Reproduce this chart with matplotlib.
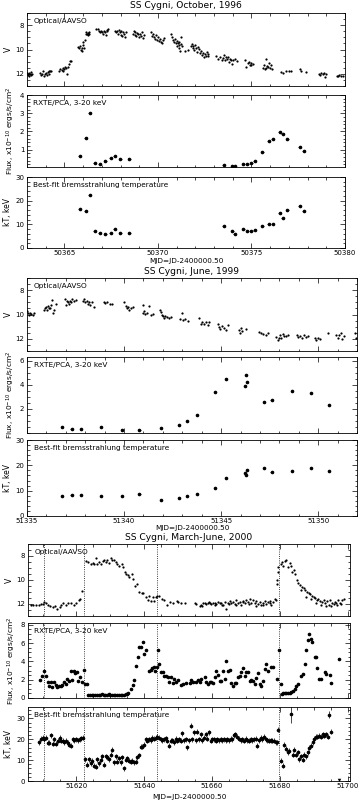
import numpy as np
import matplotlib
matplotlib.use("Agg")
import matplotlib.pyplot as plt
from matplotlib.ticker import MultipleLocator

plt.rcParams['font.family'] = 'DejaVu Sans'

# ---------------- October 1996 ----------------
opt96_t = [50363.02, 50363.05, 50363.08, 50363.10, 50363.12, 50363.15, 50363.20, 50363.22, 50363.25,
           50363.70, 50363.75, 50363.80, 50363.85, 50363.90, 50363.95, 50364.00, 50364.05, 50364.10, 50364.15, 50364.20, 50364.25, 50364.30,
           50364.72, 50364.78, 50364.85, 50364.90, 50364.95, 50365.00, 50365.05, 50365.10, 50365.12, 50365.18, 50365.22, 50365.28, 50365.35,
           50365.75, 50365.80, 50365.85, 50365.90, 50365.92, 50365.95, 50366.00, 50366.02, 50366.05, 50366.08,
           50366.15, 50366.18, 50366.22, 50366.25, 50366.28, 50366.30, 50366.33,
           50366.70, 50366.78, 50366.85, 50366.90, 50366.95, 50367.00, 50367.05, 50367.10, 50367.15, 50367.20, 50367.25, 50367.30, 50367.35,
           50367.70, 50367.75, 50367.82, 50367.88, 50367.92, 50367.98, 50368.02, 50368.05, 50368.10, 50368.15, 50368.20, 50368.25, 50368.30,
           50368.65, 50368.70, 50368.75, 50368.80, 50368.85, 50368.90, 50368.95, 50369.00, 50369.05, 50369.10, 50369.15, 50369.20, 50369.25,
           50369.65, 50369.70, 50369.75, 50369.80, 50369.85, 50369.90, 50369.95, 50370.00, 50370.05, 50370.10, 50370.15, 50370.20, 50370.25, 50370.30,
           50370.70, 50370.75, 50370.80, 50370.85, 50370.90, 50370.95, 50371.00, 50371.02, 50371.05, 50371.10, 50371.12, 50371.15, 50371.18, 50371.22, 50371.25, 50371.30,
           50371.45, 50371.60, 50371.75, 50371.80, 50371.85, 50371.90, 50371.95, 50372.00, 50372.05, 50372.10, 50372.15, 50372.20,
           50372.25, 50372.30, 50372.35, 50372.40, 50372.45, 50372.50, 50372.55, 50372.60, 50372.65, 50372.70,
           50373.10, 50373.20, 50373.30, 50373.40, 50373.50, 50373.55, 50373.60, 50373.65, 50373.70, 50373.75, 50373.80, 50373.85, 50373.90, 50373.95, 50374.00, 50374.10, 50374.20,
           50374.65, 50374.70, 50374.80, 50374.85, 50374.90, 50374.95, 50375.00, 50375.10,
           50375.60, 50375.65, 50375.70, 50375.75, 50375.80, 50375.85, 50375.90, 50375.95, 50376.00, 50376.05, 50376.10,
           50376.60, 50376.70, 50376.85, 50377.00, 50377.10,
           50377.60, 50377.65, 50377.90,
           50378.60, 50378.65, 50378.70, 50378.80, 50378.90, 50378.95, 50379.00,
           50379.55, 50379.65, 50379.70, 50379.80, 50379.90]
opt96_v = [11.90, 12.10, 12.00, 12.20, 11.95, 12.05, 12.10, 11.85, 12.00,
           11.90, 12.10, 12.00, 11.75, 12.15, 12.00, 11.90, 12.10, 11.85, 12.00, 11.80, 11.75, 11.80,
           11.80, 11.60, 11.70, 11.50, 11.75, 11.60, 11.40, 11.55, 12.00, 11.40, 11.20, 10.95, 10.95,
           9.80, 9.90, 9.70, 10.00, 9.85, 10.15, 9.60, 9.35, 9.90, 9.25,
           8.75, 8.60, 8.70, 8.65, 8.80, 8.60, 8.70,
           8.30, 8.35, 8.50, 8.55, 8.45, 8.60, 8.70, 8.50, 8.55, 8.80, 8.40, 8.50, 8.30,
           8.45, 8.60, 8.50, 8.70, 8.40, 8.55, 8.80, 8.50, 8.90, 8.60, 8.70, 8.95, 8.60,
           8.70, 8.50, 8.80, 8.60, 8.90, 8.65, 8.75, 9.00, 8.70, 8.85, 8.60, 9.05, 8.80,
           8.60, 8.90, 8.75, 9.00, 9.10, 8.80, 9.20, 8.95, 9.30, 9.10, 9.35, 9.50, 9.20, 9.05,
           8.70, 9.00, 9.20, 9.40, 9.10, 9.50, 9.30, 9.70, 9.45, 9.60, 9.90, 9.35, 10.10, 9.55, 9.00, 9.75,
           10.15, 10.00, 9.70, 9.55, 9.85, 9.75, 10.00, 9.60, 9.90, 10.20, 9.80, 9.95,
           10.25, 10.10, 10.45, 10.30, 10.60, 10.35, 10.50, 10.20, 10.55, 10.40,
           10.55, 10.75, 10.60, 10.85, 10.70, 10.45, 10.90, 10.60, 10.80, 10.65, 11.00, 10.75, 10.85, 11.20, 10.90, 10.80, 10.95,
           10.85, 11.40, 11.10, 11.00, 11.25, 11.15, 11.30, 11.20,
           11.50, 11.30, 11.60, 10.80, 11.55, 11.35, 11.45, 11.10, 11.50, 11.30, 11.60,
           11.85, 11.90, 11.80, 11.75, 11.80,
           11.60, 11.80, 11.85,
           12.00, 12.10, 11.95, 12.00, 11.90, 12.30, 12.05,
           12.15, 12.20, 12.10, 12.20, 12.15]

xr96_t = [50365.82, 50366.14, 50366.35, 50366.62, 50366.88, 50367.17, 50367.47, 50367.70, 50367.98, 50368.46,
          50373.53, 50373.97, 50374.10, 50374.56, 50374.77, 50375.00, 50375.18, 50375.57, 50375.93, 50376.14,
          50376.50, 50376.67, 50376.92, 50377.57, 50377.79]
flux96 = [0.65, 1.64, 3.00, 0.25, 0.22, 0.36, 0.55, 0.65, 0.47, 0.49,
          0.18, 0.09, 0.09, 0.22, 0.22, 0.29, 0.38, 0.87, 1.45, 1.58,
          1.96, 1.85, 1.58, 1.13, 0.93]
kt96 = [16.6, 15.8, 22.6, 7.0, 6.5, 5.9, 6.3, 7.9, 6.3, 6.5,
        9.3, 7.1, 5.9, 8.0, 7.0, 7.0, 7.4, 9.5, 10.2, 10.2,
        14.7, 12.8, 16.2, 17.7, 15.7]

# ---------------- June 1999 ----------------
opt99_t = [51335.00, 51335.05, 51335.10, 51335.15, 51335.20, 51335.30, 51335.35,
           51335.90, 51335.95, 51336.00, 51336.05, 51336.10, 51336.15, 51336.20, 51336.25, 51336.30, 51336.35, 51336.40, 51336.50,
           51336.95, 51337.00, 51337.05, 51337.10, 51337.15, 51337.20, 51337.25, 51337.30, 51337.40, 51337.50,
           51337.90, 51337.95, 51338.00, 51338.10, 51338.15, 51338.20, 51338.25, 51338.35, 51338.45,
           51338.95, 51339.00, 51339.10, 51339.30, 51339.40,
           51340.00, 51340.10, 51340.15, 51340.20, 51340.25, 51340.35, 51340.45,
           51340.95, 51341.00, 51341.05, 51341.10, 51341.20, 51341.30, 51341.40, 51341.50,
           51341.85, 51341.90, 51341.95, 51342.00, 51342.05, 51342.10, 51342.20, 51342.30, 51342.40,
           51342.90, 51343.00, 51343.05, 51343.15, 51343.30,
           51343.85, 51343.95, 51344.00, 51344.10, 51344.20, 51344.30, 51344.40,
           51344.85, 51344.90, 51344.95, 51345.05, 51345.15, 51345.25, 51345.35,
           51345.90, 51345.95, 51346.00, 51346.10, 51346.30,
           51346.95, 51347.05, 51347.15, 51347.30, 51347.40,
           51347.85, 51347.95, 51348.00, 51348.05, 51348.10, 51348.20, 51348.25, 51348.35, 51348.45,
           51348.90, 51348.95, 51349.05, 51349.15, 51349.25, 51349.35, 51349.45,
           51349.85, 51349.90, 51350.00, 51350.10, 51350.50,
           51350.90, 51351.00, 51351.05, 51351.15, 51351.25, 51351.35,
           51351.90, 51351.95]
opt99_v = [9.70, 9.90, 10.00, 9.85, 9.95, 10.05, 9.90,
           9.60, 9.50, 9.40, 9.60, 9.30, 9.50, 9.45, 9.20, 8.80, 9.90, 9.60, 9.10,
           8.75, 9.20, 8.90, 9.00, 9.10, 8.85, 9.00, 8.75, 8.90, 8.80,
           8.90, 8.75, 9.00, 8.85, 9.10, 8.95, 9.20, 9.00, 9.35,
           9.00, 9.05, 9.00, 9.10, 9.15,
           9.00, 9.30, 9.50, 9.40, 9.65, 9.50, 9.40,
           9.20, 9.90, 9.70, 9.95, 9.85, 9.30, 10.00, 9.95,
           9.60, 9.80, 10.00, 10.15, 10.25, 10.10, 10.20, 10.25, 10.20,
           10.40, 9.90, 10.45, 10.35, 10.55,
           10.30, 10.80, 10.60, 10.75, 10.65, 10.90, 10.60,
           10.80, 11.00, 11.20, 10.95, 11.10, 11.25, 10.90,
           11.30, 11.50, 11.10, 11.35, 11.20,
           11.40, 11.55, 11.60, 11.65, 11.50,
           11.85, 12.10, 11.90, 11.70, 11.95, 11.60, 11.80, 11.75, 11.65,
           11.70, 11.85, 11.75, 11.90, 11.70, 11.85, 11.80,
           11.90, 12.10, 11.95, 12.00, 11.50,
           11.70, 11.90, 11.65, 11.50, 12.00, 11.80,
           11.50, 11.90]

xr99_t = [51336.79, 51337.30, 51337.78, 51338.81, 51339.88, 51340.79, 51341.91, 51342.84, 51343.23, 51343.75,
          51344.69, 51345.26, 51346.22, 51346.28, 51346.35, 51347.20, 51347.60, 51348.66, 51349.62, 51350.57]
flux99 = [0.47, 0.36, 0.33, 0.47, 0.27, 0.27, 0.38, 0.66, 1.01, 1.50,
          3.37, 4.49, 3.92, 4.77, 4.20, 2.58, 2.77, 3.45, 3.30, 2.33]
kt99 = [8.0, 8.3, 8.3, 8.0, 8.0, 8.6, 6.5, 7.1, 8.0, 8.7,
        11.0, 14.9, 16.9, 16.1, 18.1, 18.8, 17.5, 17.7, 18.8, 17.7]

# ---------------- March-June 2000 ----------------
opt00_t = [51606.5, 51607.3, 51608.1, 51609.0, 51609.4, 51610.0, 51610.5, 51611.0, 51611.7, 51612.2,
           51613.0, 51613.7, 51614.4, 51615.0, 51615.4, 51616.1, 51616.8, 51617.6, 51618.3, 51619.3,
           51619.9, 51620.6, 51621.0, 51621.5,
           51622.8, 51623.5, 51624.2, 51624.8, 51625.3, 51625.8, 51626.2, 51626.7, 51627.2, 51627.7,
           51628.1, 51628.7, 51629.1, 51629.7, 51630.2, 51630.6, 51631.1, 51631.6, 51632.1, 51632.6,
           51633.3, 51633.8, 51634.3, 51634.6, 51635.1, 51635.6, 51636.3, 51636.8, 51637.3, 51637.8,
           51638.5, 51639.2, 51639.7, 51640.5, 51641.0, 51641.5, 51642.0, 51642.5, 51642.9, 51643.4,
           51643.9, 51644.4, 51645.1, 51645.8, 51646.6, 51647.6, 51648.6, 51649.6, 51649.9, 51650.9,
           51651.9, 51654.9, 51655.4, 51656.3, 51656.8, 51657.3, 51657.8, 51658.3, 51658.8, 51659.3,
           51659.8, 51660.3, 51660.8, 51661.3, 51661.7, 51662.2, 51662.7, 51663.2, 51663.7, 51664.2,
           51664.7, 51665.2, 51665.7, 51666.2, 51666.7, 51667.2, 51667.6, 51668.1, 51668.6, 51669.1,
           51669.6, 51670.1, 51670.6, 51671.1, 51671.6, 51672.1, 51672.6, 51673.1, 51673.5, 51674.0,
           51674.5, 51675.0, 51675.5, 51676.0, 51676.5, 51677.0, 51677.5, 51678.0, 51678.5, 51678.8,
           51679.1, 51679.3, 51679.4, 51679.6, 51680.2, 51680.6, 51681.0, 51681.4, 51681.9, 51682.4,
           51682.9, 51683.4, 51683.7, 51684.2, 51684.6, 51685.2, 51685.5, 51686.0, 51686.5, 51687.0,
           51687.5, 51688.0, 51688.5, 51689.0, 51689.5, 51690.0, 51690.5, 51690.9, 51691.4, 51691.9,
           51692.4, 51692.9, 51693.4, 51693.9, 51694.4, 51694.9, 51695.4, 51695.9, 51696.4, 51696.9,
           51697.3, 51697.8, 51698.3, 51698.8,
           51657.0, 51659.0, 51661.0, 51663.0, 51665.0, 51667.0, 51669.0, 51671.0, 51673.0, 51675.0,
           51677.0, 51686.3, 51687.8, 51689.3, 51690.8, 51692.2, 51693.7, 51695.2, 51696.7, 51698.1]
opt00_v = [12.10, 12.10, 12.05, 12.05, 12.00, 12.00, 11.85, 11.95, 12.10, 12.20,
           12.25, 12.20, 12.40, 12.25, 12.10, 11.90, 12.05, 11.90, 11.95, 12.10,
           11.90, 11.70, 11.55, 10.90,
           8.40, 8.50, 8.65, 8.60, 8.70, 8.20, 8.65, 8.50, 8.70, 8.40,
           8.30, 8.50, 8.35, 8.60, 8.20, 8.30, 8.30, 8.50, 8.65, 8.80,
           8.70, 8.90, 9.35, 9.50, 9.60, 9.75, 9.50, 9.90, 10.50, 10.30,
           11.00, 11.05, 11.10, 11.40, 11.70, 11.30, 11.75, 11.40, 11.75, 11.40,
           11.30, 11.35, 11.55, 11.70, 12.10, 11.85, 11.95, 11.75, 11.80, 11.95,
           11.95, 11.90, 12.00, 12.20, 12.10, 11.95, 11.90, 12.00, 11.95, 11.90,
           12.00, 11.95, 12.10, 12.00, 11.85, 11.95, 11.90, 12.10, 11.85, 12.40,
           11.90, 11.75, 11.95, 11.85, 12.00, 11.70, 11.90, 11.85, 12.10, 11.75,
           11.95, 11.65, 11.85, 11.55, 11.90, 11.70, 11.95, 11.75, 12.00, 11.85,
           12.10, 11.90, 11.75, 12.00, 11.85, 11.95, 12.10, 11.85, 11.55, 11.70,
           10.30, 10.00, 9.30, 8.90, 8.65, 8.50, 8.80, 8.40, 8.35, 8.90,
           8.60, 8.80, 9.35, 9.20, 9.50, 10.00, 10.25, 10.45, 10.60, 10.70,
           10.85, 11.00, 11.10, 11.20, 11.30, 11.40, 11.50, 11.65, 11.55, 11.75,
           11.85, 11.65, 11.95, 11.75, 12.10, 11.70, 11.90, 12.00, 11.85, 12.10,
           11.70, 11.90, 11.65, 11.55,
           12.15, 11.80, 11.90, 12.05, 12.00, 12.10, 11.85, 12.00, 12.20, 12.05,
           11.75, 10.80, 11.40, 11.60, 11.90, 12.05, 12.20, 12.15, 11.95, 12.00]

flux00_t = [51609.2, 51609.9, 51610.5, 51611.0, 51611.5, 51612.0, 51612.4, 51612.9, 51613.4, 51613.9,
            51614.4, 51614.8, 51615.3, 51615.8, 51616.3, 51616.8, 51617.3, 51617.8, 51618.3, 51618.8,
            51619.2, 51619.7, 51620.1, 51620.5, 51621.0, 51621.5, 51622.1, 51622.5, 51623.0,
            51623.5, 51624.0, 51624.5, 51625.0, 51625.5, 51626.0, 51626.5, 51627.0, 51627.5, 51628.0,
            51628.5, 51629.0, 51629.5, 51630.0, 51630.5, 51631.0, 51631.5, 51632.0, 51632.5, 51633.0,
            51633.5, 51634.0, 51634.5, 51635.0, 51635.3, 51636.0, 51636.6, 51637.1, 51637.6, 51638.1,
            51638.5, 51639.0, 51639.5, 51639.9, 51640.4, 51641.4, 51641.9, 51642.4, 51642.9, 51643.3,
            51643.7, 51644.0, 51644.4, 51644.9, 51645.4, 51645.9, 51646.4, 51646.9, 51647.4, 51647.9,
            51648.4, 51648.9, 51649.4, 51650.0, 51650.9, 51651.4, 51652.4, 51653.4, 51653.9, 51654.4,
            51655.4, 51655.8, 51656.3, 51656.8, 51657.8, 51658.3, 51658.8, 51659.3, 51659.8, 51660.3,
            51660.8, 51661.3, 51661.7, 51662.2, 51662.7, 51663.2, 51663.7, 51664.2, 51664.7, 51665.2,
            51665.7, 51666.2, 51666.7, 51667.2, 51667.6, 51668.1, 51668.6, 51669.1, 51669.6, 51670.1,
            51670.6, 51671.1, 51671.6, 51672.1, 51672.6, 51673.1, 51673.5, 51674.0, 51674.5, 51675.0,
            51675.5, 51676.0, 51676.5, 51677.5, 51678.0, 51679.2, 51679.7, 51680.2, 51680.6, 51681.0,
            51681.4, 51681.9, 51682.4, 51682.9, 51683.4, 51683.9, 51684.4, 51684.9, 51685.5, 51686.3,
            51686.8, 51687.3, 51687.8, 51688.3, 51688.6, 51689.1, 51689.5, 51690.3, 51690.7, 51691.0,
            51691.7, 51692.2, 51693.2, 51693.7, 51694.7, 51695.2, 51697.6]
flux00 = [2.0, 2.4, 2.9, 2.4, 1.7, 1.3, 1.7, 1.2, 1.7, 1.4,
          1.2, 1.3, 1.3, 1.4, 1.7, 1.5, 2.1, 1.9, 2.9, 2.0,
          3.0, 2.7, 2.8, 1.9, 2.3, 1.7, 3.1, 1.5, 1.5,
          0.35, 0.30, 0.35, 0.30, 0.35, 0.30, 0.35, 0.30, 0.40, 0.35,
          0.30, 0.35, 0.40, 0.35, 0.30, 0.35, 0.30, 0.30, 0.35, 0.30,
          0.30, 0.35, 0.40, 0.45, 0.60, 1.00, 1.40, 2.00, 3.50, 4.50,
          5.60, 5.60, 6.10, 4.80, 5.20, 2.90, 3.10, 3.30, 3.40, 2.90,
          3.40, 5.20, 3.70, 2.80, 2.80, 2.40, 2.40, 2.30, 1.80, 2.30,
          1.60, 2.10, 1.80, 2.00, 1.40, 1.50, 1.60, 1.60, 2.00, 1.70,
          1.70, 2.00, 1.80, 2.10, 2.30, 1.70, 1.50, 1.70, 1.80, 1.60,
          2.30, 2.90, 2.50, 1.90, 1.90, 2.90, 2.10, 4.10, 2.90, 3.10,
          1.60, 1.30, 1.60, 1.60, 2.30, 2.40, 2.80, 3.30, 2.40, 2.80,
          2.80, 1.90, 2.00, 1.90, 1.50, 2.20, 2.70, 1.50, 1.30, 1.90,
          3.20, 3.70, 2.90, 3.40, 3.40, 2.10, 5.30, 1.50, 0.40, 0.50,
          0.50, 0.60, 0.60, 0.60, 0.70, 0.80, 1.00, 1.30, 1.50, 2.40,
          2.60, 3.70, 5.30, 6.30, 7.00, 6.50, 6.10, 4.50, 4.50, 3.30,
          2.10, 2.10, 2.80, 2.60, 2.50, 1.60, 4.30]

kt00_t = [51609.0, 51609.5, 51610.0, 51610.5, 51611.0, 51611.5, 51612.0, 51612.5, 51613.0, 51613.5,
          51614.0, 51614.5, 51615.0, 51615.4, 51615.9, 51616.4, 51616.9, 51617.4, 51617.9, 51618.4,
          51618.9, 51619.4, 51619.9, 51620.4, 51620.9, 51621.3, 51621.8,
          51622.6, 51623.2, 51623.7, 51624.2, 51624.7, 51625.2, 51625.7, 51626.2, 51626.6, 51627.1,
          51627.6, 51628.1, 51628.6, 51629.1, 51629.6, 51630.1, 51630.6, 51631.1, 51631.6, 51632.1,
          51632.5, 51633.0, 51633.5, 51634.0, 51634.5, 51635.0, 51635.5, 51636.0, 51636.5, 51637.0,
          51637.5, 51638.0, 51638.4, 51638.9, 51639.4, 51639.9, 51640.4, 51640.9, 51641.4, 51641.9,
          51642.4, 51642.9, 51643.4, 51643.9, 51644.3, 51644.8, 51645.3, 51645.8, 51646.3, 51646.8,
          51647.3, 51647.8, 51648.3, 51648.8, 51649.3, 51649.8, 51650.2, 51650.7, 51651.2, 51651.7,
          51652.2, 51652.7, 51653.2, 51653.7, 51654.2, 51654.7, 51655.2, 51655.7, 51656.1, 51656.6,
          51657.1, 51657.6, 51658.1, 51658.6, 51659.1, 51659.6, 51660.1, 51660.6, 51661.1, 51661.5,
          51662.0, 51662.5, 51663.0, 51663.5, 51664.0, 51664.5, 51665.0, 51665.5, 51666.0, 51666.5,
          51666.9, 51667.4, 51667.9, 51668.4, 51668.9, 51669.4, 51669.9, 51670.4, 51670.9, 51671.4,
          51671.9, 51672.4, 51672.9, 51673.3, 51673.8, 51674.3, 51674.8, 51675.3, 51675.8, 51676.3,
          51676.8, 51677.3, 51677.8, 51678.3, 51678.8, 51679.3, 51679.6,
          51680.3, 51680.8, 51681.3, 51681.8, 51682.3, 51682.8, 51683.8, 51684.3, 51684.8, 51685.3,
          51685.7, 51686.2, 51686.7, 51687.2, 51687.7, 51688.2, 51688.7, 51689.2, 51689.7, 51690.2,
          51690.7, 51691.1, 51691.6, 51692.1, 51692.6, 51693.1, 51693.6, 51694.1, 51695.0]
kt00 = [18.5, 20.3, 20.8, 20.0, 20.8, 18.4, 18.4, 22.0, 17.9, 20.0,
        17.9, 19.2, 20.8, 19.2, 19.2, 18.7, 19.2, 18.4, 17.5, 17.0,
        20.0, 19.5, 20.0, 19.5, 20.0, 20.5, 20.8,
        10.5, 7.7, 10.5, 8.5, 9.7, 7.2, 6.9, 10.5, 8.5, 10.2,
        11.8, 7.7, 11.8, 11.3, 10.5, 12.6, 15.1, 8.9, 11.8, 9.3,
        11.0, 8.9, 11.3, 6.1, 10.2, 11.0, 9.7, 9.3, 9.7, 8.9,
        9.3, 11.3, 12.3, 16.4, 16.4, 17.5, 20.0, 19.2, 20.0, 19.5,
        20.8, 20.3, 20.8, 21.3, 20.8, 20.0, 19.5, 20.0, 20.5, 19.2,
        17.0, 19.2, 19.5, 18.7, 20.3, 19.2, 20.0, 19.2, 23.0, 19.5,
        20.0, 16.2, 19.5, 26.5, 20.0, 23.3, 19.5, 23.6, 20.0, 22.5,
        19.5, 20.8, 22.5, 20.3, 23.3, 19.2, 20.0, 20.0, 19.2, 20.0,
        19.5, 20.0, 19.5, 20.0, 19.5, 20.0, 19.5, 20.3, 20.0, 22.0,
        22.5, 21.3, 20.3, 19.5, 20.0, 19.2, 20.3, 19.5, 19.2, 20.0,
        19.5, 20.0, 20.3, 17.0, 19.5, 20.8, 20.0, 21.3, 20.0, 19.5,
        19.2, 19.5, 19.2, 19.2, 18.7, 18.7, 24.6,
        9.8, 7.2, 17.5, 15.4, 13.8, 14.6, 12.6, 15.1, 12.6, 13.8,
        10.5, 11.8, 10.2, 12.6, 11.8, 13.8, 15.9, 17.0, 18.7, 20.3,
        21.3, 21.3, 21.6, 21.3, 22.5, 21.6, 22.5, 21.3, 23.6]
kt00_big_t = [51683.3, 51694.6]
kt00_big = [32.0, 31.8]
kt00_big_err = [4.0, 1.8]
kt00_lim_t = [51697.5]
kt00_lim = [0.5]

dotted00 = [51610.4, 51622.2, 51643.7, 51679.7]

W, H = 358.0, 806.0
fig = plt.figure(figsize=(W / 100, H / 100), dpi=100)


def add_panel(left, right, top, bottom):
    ax = fig.add_axes([left / W, 1 - bottom / H, (right - left) / W, (bottom - top) / H])
    ax.tick_params(which='both', direction='in', top=True, right=True, labelsize=5, width=0.5, pad=2)
    ax.tick_params(which='major', length=3.5)
    ax.tick_params(which='minor', length=1.8)
    for s in ax.spines.values():
        s.set_linewidth(0.6)
    return ax


def label(ax, txt):
    ax.text(0.02, 0.93, txt, transform=ax.transAxes, fontsize=5.3, va='top', ha='left')


mk = dict(fmt='o', ms=1.6, color='black', elinewidth=0.5, capsize=0, lw=0)

groups = [
    dict(left=27, right=345, tops=[(13, 86), (95, 167), (177, 248)], title_y=6, xlabel_y=261),
    dict(left=27, right=357, tops=[(278, 351), (357, 433), (440, 516)], title_y=271, xlabel_y=528),
    dict(left=28, right=350, tops=[(544, 616), (623, 698), (707, 781)], title_y=538, xlabel_y=797),
]
titles = ['SS Cygni, October, 1996', 'SS Cygni, June, 1999', 'SS Cygni, March-June, 2000']
xlims = [(50363.0, 50380.0), (51335.0, 51352.0), (51605.7, 51700.7)]
xmaj = [5, 5, 20]
xmin = [1, 1, 5]

for gi, g in enumerate(groups):
    axs = [add_panel(g['left'], g['right'], t, b) for t, b in g['tops']]
    fig.text((g['left'] + g['right']) / 2 / W, 1 - g['title_y'] / H, titles[gi],
             ha='center', va='center', fontsize=6.6)
    fig.text((g['left'] + g['right']) / 2 / W, 1 - g['xlabel_y'] / H, 'MJD=JD-2400000.50',
             ha='center', va='center', fontsize=5.2)
    for ax in axs:
        ax.set_xlim(*xlims[gi])
        ax.xaxis.set_major_locator(MultipleLocator(xmaj[gi]))
        ax.xaxis.set_minor_locator(MultipleLocator(xmin[gi]))
    axs[0].tick_params(labelbottom=False)
    axs[1].tick_params(labelbottom=False)
    a0, a1, a2 = axs
    a2.tick_params(axis='x', pad=1.5)
    a0.set_ylim(13, 7)
    a0.yaxis.set_major_locator(MultipleLocator(2))
    a0.yaxis.set_minor_locator(MultipleLocator(0.5))
    a0.set_ylabel('V', fontsize=5.5, labelpad=2)
    label(a0, 'Optical/AAVSO')
    a1.set_ylabel('Flux, x10$^{-10}$ ergs/s/cm$^2$', fontsize=5.3, labelpad=2)
    label(a1, 'RXTE/PCA, 3-20 keV')
    a2.set_ylabel('kT, keV', fontsize=5.5, labelpad=2)
    label(a2, 'Best-fit bremsstrahlung temperature')
    a2.yaxis.set_major_locator(MultipleLocator(10))
    a2.yaxis.set_minor_locator(MultipleLocator(2))

    if gi == 0:
        a0.plot(opt96_t, opt96_v, 'o', ms=1.6, color='black', mew=0)
        a1.errorbar(xr96_t, flux96, xerr=0.08, **mk)
        a2.errorbar(xr96_t, kt96, xerr=0.08, **mk)
        a1.set_ylim(0.05, 4)
        a1.set_yticks([1, 2, 3, 4])
        a1.yaxis.set_minor_locator(MultipleLocator(0.2))
        a2.set_ylim(0, 30)
    elif gi == 1:
        a0.plot(opt99_t, opt99_v, 'o', ms=1.6, color='black', mew=0)
        a1.errorbar(xr99_t, flux99, xerr=0.06, **mk)
        a2.errorbar(xr99_t, kt99, xerr=0.06, **mk)
        a1.set_ylim(0, 6.3)
        a1.set_yticks([2, 4, 6])
        a1.yaxis.set_minor_locator(MultipleLocator(0.5))
        a2.set_ylim(0, 30)
    else:
        a0.plot(opt00_t, opt00_v, 'o', ms=1.6, color='black', mew=0)
        a1.errorbar(flux00_t, flux00, xerr=0.15, **mk)
        a2.errorbar(kt00_t, kt00, yerr=1.2, **mk)
        a2.errorbar(kt00_big_t, kt00_big, yerr=kt00_big_err, **mk)
        a2.plot(kt00_lim_t, kt00_lim, 'v', ms=2.5, color='black', mew=0)
        a1.set_ylim(0, 8.2)
        a1.yaxis.set_major_locator(MultipleLocator(2))
        a1.yaxis.set_minor_locator(MultipleLocator(0.5))
        a2.set_ylim(0, 35.5)
        for ax in axs:
            for d in dotted00:
                ax.axvline(d, color='black', ls=':', lw=0.6)

fig.savefig('out.png', dpi=100)
